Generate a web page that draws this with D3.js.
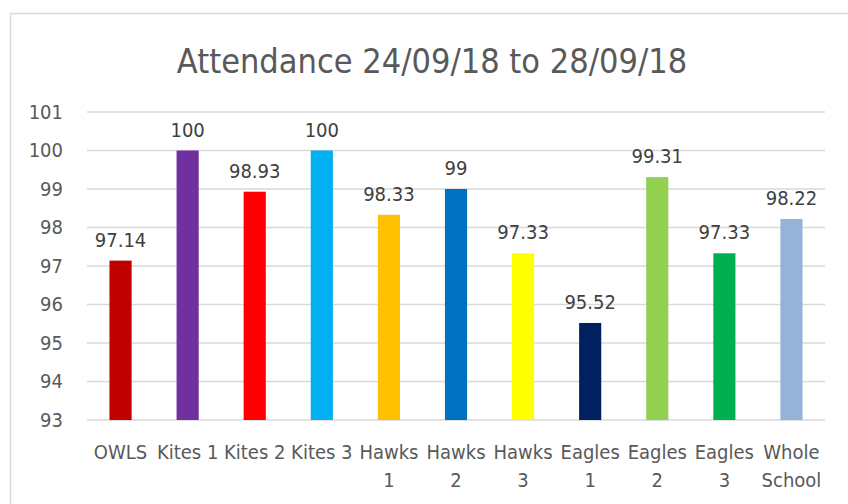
<!DOCTYPE html>
<html>
<head>
<meta charset="utf-8">
<script src="https://cdn.jsdelivr.net/npm/d3@7"></script>
<style>
  body { margin: 0; background: #fff; }
  svg text { font-family: "Liberation Sans Narrow", "DejaVu Sans Condensed", "Open Sans", sans-serif; fill: #595959; }
</style>
</head>
<body>
<div id="chart"></div>
<script>
const categories = ["OWLS", "Kites 1", "Kites 2", "Kites 3", "Hawks 1", "Hawks 2", "Hawks 3", "Eagles 1", "Eagles 2", "Eagles 3", "Whole School"];
const values = [97.14, 100, 98.93, 100, 98.33, 99, 97.33, 95.52, 99.31, 97.33, 98.22];
const colors = ["#C00000", "#7030A0", "#FF0000", "#00B0F0", "#FFC000", "#0070C0", "#FFFF00", "#002060", "#92D050", "#00B050", "#95B3D7"];
const tickLines = [["OWLS"], ["Kites 1"], ["Kites 2"], ["Kites 3"], ["Hawks", "1"], ["Hawks", "2"], ["Hawks", "3"], ["Eagles", "1"], ["Eagles", "2"], ["Eagles", "3"], ["Whole", "School"]];
const yTicks = [93, 94, 95, 96, 97, 98, 99, 100, 101];

const W = 848, H = 504;
const margin = { top: 112, right: 23, bottom: 84, left: 87 };
const width = W - margin.left - margin.right,
      height = H - margin.top - margin.bottom;

const svg = d3.select("#chart").append("svg")
    .attr("width", W)
    .attr("height", H);

// chart frame (cropped at right and bottom)
svg.append("rect")
    .attr("x", 10.5).attr("y", 13.5)
    .attr("width", 900).attr("height", 600)
    .attr("fill", "none")
    .attr("stroke", "#d9d9d9")
    .attr("stroke-width", 1.5);

svg.append("text")
    .attr("x", 432).attr("y", 73)
    .attr("text-anchor", "middle")
    .style("font-size", "34px")
    .text("Attendance 24/09/18 to 28/09/18");

const g = svg.append("g")
    .attr("transform", `translate(${margin.left},${margin.top})`);

const x = d3.scaleBand().domain(categories).range([0, width]).paddingInner(0.67).paddingOuter(0.335);
const y = d3.scaleLinear().domain([93, 101]).range([height, 0]);

// gridlines
g.append("g")
    .selectAll("line")
    .data(yTicks)
    .join("line")
    .attr("x1", 0).attr("x2", width)
    .attr("y1", d => y(d)).attr("y2", d => y(d))
    .attr("stroke", "#d9d9d9")
    .attr("stroke-width", 1.5);

// y axis labels
const yAxis = g.append("g")
    .call(d3.axisLeft(y).tickValues(yTicks).tickSize(0).tickPadding(24));
yAxis.select(".domain").remove();
yAxis.selectAll("text")
    .style("font-size", "20px")
    .attr("fill", "#595959");

// bars
g.selectAll("rect.bar")
    .data(values)
    .join("rect")
    .attr("class", "bar")
    .attr("x", (d, i) => x(categories[i]))
    .attr("width", x.bandwidth())
    .attr("y", d => y(d))
    .attr("height", d => height - y(d))
    .attr("fill", (d, i) => colors[i]);

// data labels
g.selectAll("text.val")
    .data(values)
    .join("text")
    .attr("class", "val")
    .attr("x", (d, i) => x(categories[i]) + x.bandwidth() / 2)
    .attr("y", d => y(d) - 14)
    .attr("text-anchor", "middle")
    .style("font-size", "20px")
    .style("fill", "#404040")
    .text(d => d);

// x axis labels
const xAxis = g.append("g")
    .attr("transform", `translate(0,${height})`)
    .call(d3.axisBottom(x).tickSize(0).tickFormat(""));
xAxis.select(".domain").remove();
xAxis.selectAll(".tick")
    .append("text")
    .attr("text-anchor", "middle")
    .style("font-size", "20px")
    .attr("fill", "#595959")
    .selectAll("tspan")
    .data((d, i) => tickLines[i])
    .join("tspan")
    .attr("x", 0)
    .attr("y", (d, j) => 39 + j * 28)
    .text(d => d);
</script>
</body>
</html>
